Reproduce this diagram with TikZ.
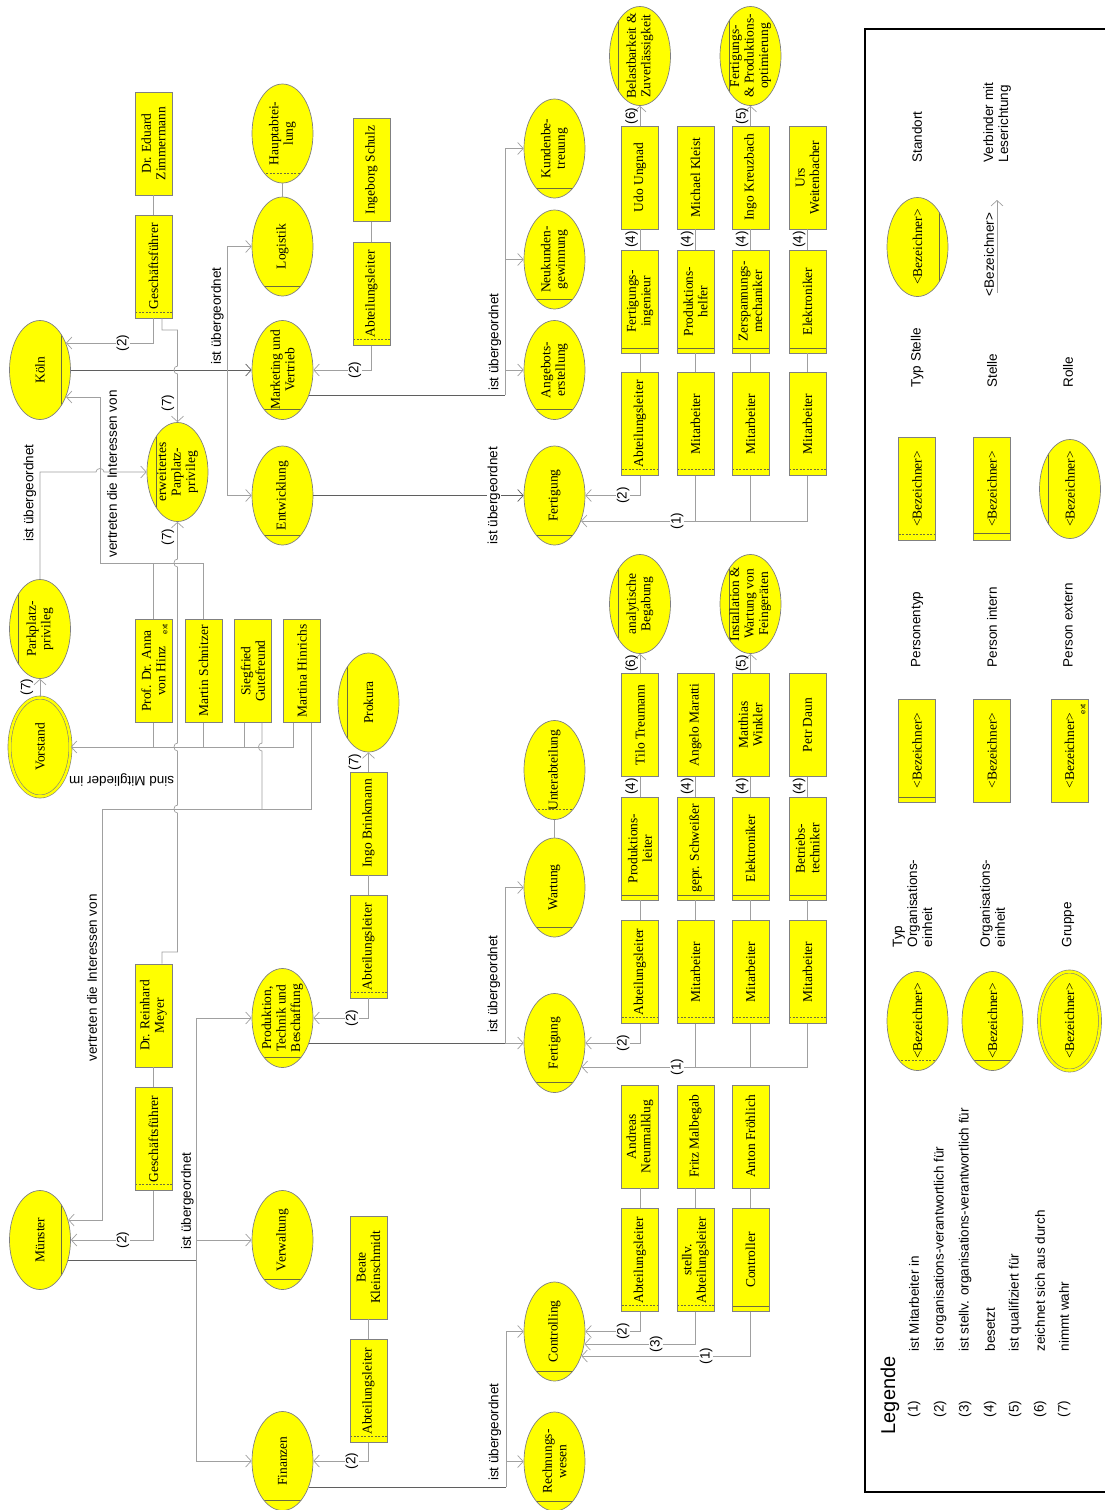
\documentclass[tikz,border=0pt]{standalone}
\usepackage{fontspec}
\setmainfont{Liberation Serif}
\setsansfont{Liberation Sans}
\usetikzlibrary{shapes.geometric,arrows.meta,calc}
\definecolor{yel}{RGB}{255,255,0}
\definecolor{bord}{RGB}{128,128,128}
\definecolor{cl}{RGB}{160,160,160}
\definecolor{cd}{RGB}{95,95,95}
\definecolor{inl}{RGB}{110,110,60}
\tikzset{
 shp/.style={fill=yel, draw=bord, line width=0.7pt, inner sep=0pt},
 ell/.style={shp, ellipse, minimum width=61pt, minimum height=99pt},
 box/.style={shp, rectangle, minimum width=37pt, minimum height=103pt},
 standortE/.style={ell, path picture={\draw[inl,line width=0.6pt] ([xshift=-9pt]path picture bounding box.north east) -- ([xshift=-9pt]path picture bounding box.south east);}},
 rolleE/.style={ell, path picture={\draw[inl,line width=0.6pt] ([xshift=9pt]path picture bounding box.north west) -- ([xshift=9pt]path picture bounding box.south west);}},
 orgE/.style={ell, path picture={\draw[inl,line width=0.6pt] ([yshift=10pt]path picture bounding box.south west) -- ([yshift=10pt]path picture bounding box.south east);}},
 typorgE/.style={ell, path picture={\draw[inl,line width=0.6pt,dash pattern=on 2pt off 1.5pt] ([yshift=10pt]path picture bounding box.south west) -- ([yshift=10pt]path picture bounding box.south east);}},
 gruppeE/.style={ell, double=yel, double distance=2.5pt, line width=0.6pt},
 personB/.style={box},
 typstelleB/.style={box, path picture={\draw[inl,line width=0.6pt,dash pattern=on 2pt off 1.5pt] ([yshift=6pt]path picture bounding box.south west) -- ([yshift=6pt]path picture bounding box.south east);}},
 ptypB/.style={box, path picture={\draw[inl,line width=0.6pt] ([yshift=5pt]path picture bounding box.south west) -- ([yshift=5pt]path picture bounding box.south east);}},
 stelleB/.style={box, path picture={\draw[inl,line width=0.6pt] ([yshift=7pt]path picture bounding box.south west) -- ([yshift=7pt]path picture bounding box.south east);}},
 txt/.style={rotate=90, align=center, inner sep=0pt, font=\fontsize{13.5}{14.5}\selectfont},
 lbl/.style={rotate=90, inner sep=0.5pt, font=\sffamily\fontsize{13.5}{15}\selectfont},
 lblw/.style={lbl, fill=white},
 ln/.style={draw=cl, line width=0.7pt},
 lnd/.style={draw=cd, line width=0.7pt},
 arr/.style={-{Straight Barb[length=5.5pt,width=12pt]}},
 hop/.style={looseness=1.5},
 extlbl/.style={rotate=90, inner sep=0pt, font=\sffamily\fontsize{7.5}{8}\selectfont},
}
\newcommand\mknode[4]{\node[#1] (#2) at (#3) {}; \node[txt] at (#2) {#4};}
\begin{document}
\begin{tikzpicture}[x=1pt,y=-1pt]
\useasboundingbox (0,0) rectangle (1105,1510);
% ---------- column A
\mknode{standortE}{koeln}{40,370}{Köln}
\mknode{rolleE}{park}{40,629}{Parkplatz-\\privileg}
\mknode{gruppeE}{vorstand}{40,747}{Vorstand}
\mknode{standortE}{muenster}{40,1240}{Münster}
% ---------- column B
\mknode{personB}{zimmermann}{153.5,143.5}{Dr. Eduard\\Zimmermann}
\mknode{typstelleB}{gfk}{153.5,266.5}{Geschäftsführer}
\mknode{personB}{hinz}{153.5,671}{Prof. Dr. Anna\\von Hinz}
\node[extlbl] at (165,629) {ext};
\mknode{personB}{schnitzer}{203.5,671}{Martin Schnitzer}
\mknode{personB}{gutefreund}{253,671}{Siegfried\\Gutefreund}
\mknode{personB}{hinrichs}{302,671}{Martina Hinrichs}
\mknode{personB}{meyer}{153.5,1015.5}{Dr. Reinhard\\Meyer}
\mknode{typstelleB}{gfm}{153.5,1139}{Geschäftsführer}
\mknode{rolleE}{erw}{177.5,472}{erweitertes\\Parplatz-\\privileg}
% ---------- column C
\mknode{typorgE}{haupt}{282.5,133.5}{Hauptabtei-\\lung}
\mknode{orgE}{logistik}{282.5,246.5}{Logistik}
\mknode{orgE}{marketing}{282.5,370}{Marketing und\\Vertrieb}
\mknode{orgE}{entw}{282.5,495.5}{Entwicklung}
\mknode{orgE}{ptb}{282.5,1018}{Produktion,\\Technik und\\Beschaffung}
\mknode{orgE}{verw}{282.5,1240}{Verwaltung}
\mknode{orgE}{fin}{282.5,1461}{Finanzen}
% ---------- column D
\mknode{personB}{schulz}{371.5,170}{Ingeborg Schulz}
\mknode{typstelleB}{alk}{371.5,294}{Abteilungsleiter}
\mknode{rolleE}{prokura}{368.5,702.5}{Prokura}
\mknode{personB}{brinkmann}{368.5,823.5}{Ingo Brinkmann}
\mknode{typstelleB}{alp}{368.5,946.5}{Abteilungsleiter}
\mknode{personB}{kleinschmidt}{368.5,1267.5}{Beate\\Kleinschmidt}
\mknode{typstelleB}{alf}{368.5,1391}{Abteilungsleiter}
% ---------- column E
\mknode{orgE}{kunden}{554.5,148.5}{Kundenbe-\\treuung}
\mknode{orgE}{neukunden}{554.5,259.5}{Neukunden-\\gewinnung}
\mknode{orgE}{angebot}{554.5,370}{Angebots-\\erstellung}
\mknode{orgE}{fert1}{554.5,495.5}{Fertigung}
\mknode{typorgE}{unter}{554.5,770}{Unterabteilung}
\mknode{orgE}{wartung}{554.5,887.5}{Wartung}
\mknode{orgE}{fert2}{554.5,1043}{Fertigung}
\mknode{orgE}{controlling}{554.5,1331.5}{Controlling}
\mknode{orgE}{rechnung}{554.5,1461.5}{Rechnungs-\\wesen}
% ---------- upper group
\mknode{rolleE}{bel}{640,56}{Belastbarkeit \&\\Zuverlässigkeit}
\mknode{rolleE}{fpo}{750.5,56}{Fertigungs-\\\& Produktions-\\optimierung}
\mknode{personB}{ungnad}{640,177.5}{Udo Ungnad}
\mknode{personB}{kleist}{695.5,177.5}{Michael Kleist}
\mknode{personB}{kreuzbach}{750.5,177.5}{Ingo Kreuzbach}
\mknode{personB}{weitenbacher}{807.5,177.5}{Urs\\Weitenbacher}
\mknode{ptypB}{fing}{640,301.5}{Fertigungs-\\ingenieur}
\mknode{ptypB}{phelfer}{695.5,301.5}{Produktions-\\helfer}
\mknode{ptypB}{zersp}{750.5,301.5}{Zerspannungs-\\mechaniker}
\mknode{ptypB}{elekA}{807.5,301.5}{Elektroniker}
\mknode{typstelleB}{alA}{640,424}{Abteilungsleiter}
\mknode{typstelleB}{maA1}{695.5,424}{Mitarbeiter}
\mknode{typstelleB}{maA2}{750.5,424}{Mitarbeiter}
\mknode{typstelleB}{maA3}{807.5,424}{Mitarbeiter}
% ---------- middle group
\mknode{rolleE}{anal}{640,604}{analytische\\Begabung}
\mknode{rolleE}{inst}{750.5,604}{Installation \&\\Wartung von\\Feingeräten}
\mknode{personB}{treumann}{640,725}{Tilo Treumann}
\mknode{personB}{maratti}{695.5,725}{Angelo Maratti}
\mknode{personB}{winkler}{750.5,725}{Matthias\\Winkler}
\mknode{personB}{daun}{807.5,725}{Petr Daun}
\mknode{ptypB}{pleiter}{640,848.5}{Produktions-\\leiter}
\mknode{ptypB}{schweiss}{695.5,848.5}{gepr. Schweißer}
\mknode{ptypB}{elekB}{750.5,848.5}{Elektroniker}
\mknode{ptypB}{btech}{807.5,848.5}{Betriebs-\\techniker}
\mknode{typstelleB}{alB}{640,972}{Abteilungsleiter}
\mknode{typstelleB}{maB1}{695.5,972}{Mitarbeiter}
\mknode{typstelleB}{maB2}{750.5,972}{Mitarbeiter}
\mknode{typstelleB}{maB3}{807.5,972}{Mitarbeiter}
% ---------- lower group
\mknode{personB}{neunmalklug}{640,1136.5}{Andreas\\Neunmalklug}
\mknode{personB}{malbegab}{695.5,1136.5}{Fritz Malbegab}
\mknode{personB}{froehlich}{750.5,1136.5}{Anton Fröhlich}
\mknode{typstelleB}{alC}{640,1260}{Abteilungsleiter}
\mknode{typstelleB}{stal}{695.5,1260}{stellv.\\Abteilungsleiter}
\mknode{ptypB}{controller}{750.5,1260}{Controller}

% ================= connectors: Köln
\draw[ln] (zimmermann.south) -- (gfk.north);
\draw[ln,arr] (gfk.south) |- ([shift={(-4.9,-27)}]koeln.east);
\node[lblw] at (123,343) {(2)};
\draw[lnd,arr] (koeln.east) -- (marketing.west);
\coordinate (jk) at (227,370);
\draw[ln,arr] (jk) |- (logistik.west);
\draw[ln,arr] (jk) |- (entw.west);
\node[lbl] at (217.5,316) {ist übergeordnet};
\draw[ln,arr] ([xshift=8.5pt]gfk.south) |- (177.5,330) -- (177.5,366) to[out=180,in=180,hop] (177.5,374) -- (erw.north);
\node[lbl] at (168,403) {(7)};
\draw[ln] (haupt.south) -- (logistik.north);
\draw[ln] (schulz.south) -- (alk.north);
\draw[ln,arr] (alk.south) |- (marketing.east);
\node[lblw] at (355,370) {(2)};
\coordinate (jm) at (505,395);
\draw[lnd] ([shift={(-4.2,25)}]marketing.east) -- (jm);
\draw[ln,arr] (jm) |- (kunden.west);
\draw[ln,arr] (jm) |- (neukunden.west);
\draw[ln,arr] (jm) |- (angebot.west);
\node[lbl] at (495,342) {ist übergeordnet};
\draw[lnd,arr] (entw.east) -- (fert1.west);
\node[lblw] at (494,495.5) {ist übergeordnet};

% upper group
\foreach \p/\q in {alA/fing, maA1/phelfer, maA2/zersp, maA3/elekA}{\draw[ln] (\p.north) -- (\q.south);}
\foreach \p/\q in {fing/ungnad, phelfer/kleist, zersp/kreuzbach, elekA/weitenbacher}{\draw[ln] (\p.north) -- (\q.south);}
\foreach \x in {631.5,687,742,799}{\node[lbl] at (\x,239.5) {(4)};}
\draw[ln,arr] (ungnad.north) -- (bel.south);
\node[lbl] at (631.5,116) {(6)};
\draw[ln,arr] (kreuzbach.north) -- (fpo.south);
\node[lbl] at (742,116) {(5)};
\draw[ln,arr] (alA.south) |- (fert1.east);
\node[lblw] at (623,495.5) {(2)};
\draw[ln,arr] (maA3.south) |- ([shift={(-4.4,25.5)}]fert1.east);
\draw[ln] (maA1.south) -- ++(0,45);
\draw[ln] (maA2.south) -- ++(0,45);
\node[lblw] at (677,521) {(1)};

% middle group
\foreach \p/\q in {alB/pleiter, maB1/schweiss, maB2/elekB, maB3/btech}{\draw[ln] (\p.north) -- (\q.south);}
\foreach \p/\q in {pleiter/treumann, schweiss/maratti, elekB/winkler, btech/daun}{\draw[ln] (\p.north) -- (\q.south);}
\foreach \x in {631.5,687,742,799}{\node[lbl] at (\x,786.5) {(4)};}
\draw[ln,arr] (treumann.north) -- (anal.south);
\node[lbl] at (631.5,663.5) {(6)};
\draw[ln,arr] (winkler.north) -- (inst.south);
\node[lbl] at (742,663.5) {(5)};
\draw[ln,arr] (alB.south) |- (fert2.east);
\node[lblw] at (623,1043) {(2)};
\draw[ln,arr] (maB3.south) |- ([shift={(-3.8,24)}]fert2.east);
\draw[ln] (maB1.south) -- ++(0,43);
\draw[ln] (maB2.south) -- ++(0,43);
\node[lblw] at (677,1067) {(1)};
\draw[ln] (unter.south) -- (wartung.north);

% lower group
\foreach \p/\q in {neunmalklug/alC, malbegab/stal, froehlich/controller}{\draw[ln] (\p.south) -- (\q.north);}
\draw[ln,arr] (alC.south) |- (controlling.east);
\node[lblw] at (623,1331.5) {(2)};
\draw[ln,arr] (stal.south) |- ([shift={(-1,12.5)}]controlling.east);
\node[lblw] at (656,1344) {(3)};
\draw[ln,arr] (controller.south) |- ([shift={(-4,24.5)}]controlling.east);
\node[lblw] at (706,1356) {(1)};

% Parkplatz / Vorstand
\draw[ln,arr] (vorstand.north) -- (park.south);
\node[lbl] at (27,687) {(7)};
\draw[ln,arr] (park.north) |- (96,472) to[out=90,in=90,hop] (104,472) -- (erw.west);
\node[lbl] at (30,493) {ist übergeordnet};
\coordinate (v1) at (100,563);
\draw[ln] (hinz.north) -- (hinz.north |- v1);
\draw[ln,arr] (schnitzer.north) |- (v1) -- (100,397) -- ([shift={(-4.9,27)}]koeln.east);
\node[lbl] at (112,474) {vertreten die Interessen von};
\draw[ln,arr] ([xshift=-9pt]hinrichs.south) |- (vorstand.east);
\draw[ln] (hinz.south) -- ++(0,24);
\draw[ln] (schnitzer.south) -- ++(0,24);
\draw[ln] ([xshift=-9pt]gutefreund.south) -- ++(0,24);
\node[lbl,rotate=90] at (121.5,780) {sind Mitglieder im};
\draw[ln] ([xshift=9pt]gutefreund.south) -- (262,743) to[out=180,in=180,hop] (262,751) -- (262,809);
\draw[ln,arr] ([xshift=9pt]hinrichs.south) |- (102,809) -- (102,1220) -- ([shift={(-2.6,-20)}]muenster.east);
\node[lbl] at (92,978) {vertreten die Interessen von};
\draw[ln,arr] ([xshift=8.5pt]meyer.north) |- (177.5,952) -- (177.5,813) to[out=180,in=180,hop] (177.5,805) -- (177.5,751) to[out=180,in=180,hop] (177.5,743) -- (177.5,567) to[out=180,in=180,hop] (177.5,559) -- (erw.south);
\node[lbl] at (168,537) {(7)};

% Münster
\draw[ln] (meyer.south) -- (gfm.north);
\draw[ln,arr] (gfm.south) |- (muenster.east);
\node[lblw] at (123,1240) {(2)};
\coordinate (jmu) at (196,1260);
\draw[lnd] ([shift={(-2.6,20)}]muenster.east) -- (jmu);
\draw[ln,arr] (jmu) |- (ptb.west);
\draw[ln,arr] (jmu) |- (verw.west);
\draw[ln,arr] (jmu) |- (fin.west);
\node[lbl] at (187.5,1201) {ist übergeordnet};

% PTB
\draw[ln] (brinkmann.south) -- (alp.north);
\draw[ln,arr] (brinkmann.north) -- (prokura.south);
\node[lbl] at (355,762) {(7)};
\draw[ln,arr] (alp.south) |- (ptb.east);
\node[lblw] at (352,1018) {(2)};
\coordinate (jp) at (505,1043);
\draw[lnd] ([shift={(-4.2,25)}]ptb.east) -- (jp);
\draw[ln,arr] (jp) -- (fert2.west);
\draw[ln,arr] (jp) |- (wartung.west);
\node[lbl] at (494,984) {ist übergeordnet};

% Finanzen
\draw[ln] (kleinschmidt.south) -- (alf.north);
\draw[ln,arr] (alf.south) |- (fin.east);
\node[lblw] at (352,1461) {(2)};
\coordinate (jf) at (506,1487);
\draw[lnd] ([shift={(-4.5,26)}]fin.east) -- (jf);
\draw[ln,arr] (jf) |- (rechnung.west);
\draw[ln,arr] (jf) |- (controlling.west);
\node[lbl] at (495,1432) {ist übergeordnet};

% ================= legend
\draw[line width=1.8pt] (865,29) rectangle (1115,1492);
\mknode{standortE}{lgSO}{917.5,247}{<Bezeichner>}
\node[lbl,anchor=west] at (917,163) {Standort};
\coordinate (lcA) at (997,293);
\coordinate (lcB) at (997,200);
\draw[ln,arr] (lcA) -- (lcB);
\node[lbl,anchor=west] at (989,297) {<Bezeichner>};
\node[lbl,anchor=west,align=left] at (997,163) {Verbinder mit\\Leserichtung};
\mknode{typstelleB}{lgTS}{917,489}{<Bezeichner>}
\node[lbl,anchor=west] at (917,388) {Typ Stelle};
\mknode{stelleB}{lgS}{992,489}{<Bezeichner>}
\node[lbl,anchor=west] at (992,388) {Stelle};
\mknode{rolleE}{lgR}{1070,489}{<Bezeichner>}
\node[lbl,anchor=west] at (1068,388) {Rolle};
\mknode{ptypB}{lgPT}{917,750.5}{<Bezeichner>}
\node[lbl,anchor=west] at (917,668) {Personentyp};
\mknode{personB}{lgPI}{992,750.5}{<Bezeichner>}
\node[lbl,anchor=west] at (992,668) {Person intern};
\mknode{personB}{lgPE}{1069.5,750.5}{<Bezeichner>}
\node[extlbl] at (1083,709) {ext};
\node[lbl,anchor=west] at (1068,668) {Person extern};
\mknode{typorgE}{lgTO}{917.5,1021}{<Bezeichner>}
\node[lbl,anchor=west,align=left] at (912.5,948) {Typ\\Organisations-\\einheit};
\mknode{orgE}{lgO}{992.5,1021}{<Bezeichner>}
\node[lbl,anchor=west,align=left] at (992.5,948) {Organisations-\\einheit};
\mknode{gruppeE}{lgG}{1069.5,1021}{<Bezeichner>}
\node[lbl,anchor=west] at (1068,948) {Gruppe};
\node[lbl,anchor=west,font=\sffamily\fontsize{20}{22}\selectfont] at (890,1435) {Legende};
\foreach \x/\n/\t in {914/1/ist Mitarbeiter in, 940/2/ist organisations-verantwortlich für, 965/3/ist stellv. organisations-verantwortlich für, 990/4/besetzt, 1015/5/ist qualifiziert für, 1040/6/zeichnet sich aus durch, 1064/7/nimmt wahr}{
  \node[lbl,anchor=west] at (\x,1418) {(\n)};
  \node[lbl,anchor=west] at (\x,1352) {\t};
}
\end{tikzpicture}
\end{document}
